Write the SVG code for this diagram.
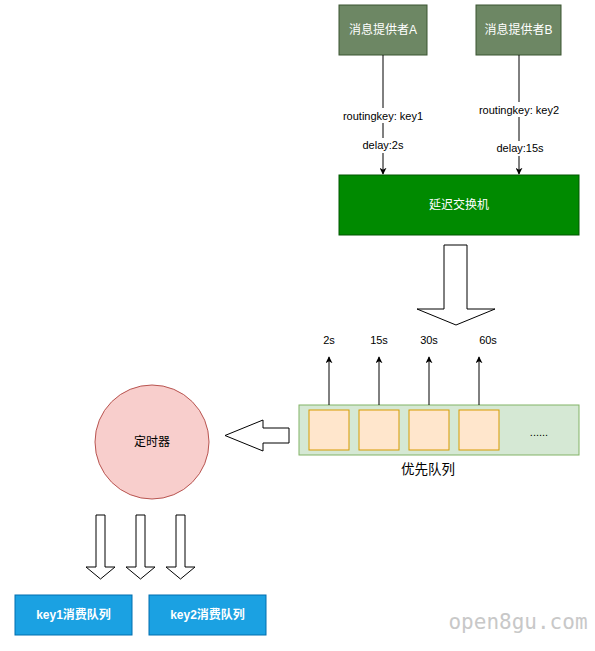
<svg xmlns="http://www.w3.org/2000/svg" width="595" height="651" viewBox="0 0 595 651">
<defs>
<marker id="ah" viewBox="0 0 10 10" refX="9" refY="5" markerWidth="7" markerHeight="7" orient="auto" markerUnits="userSpaceOnUse">
<path d="M0,0 L10,5 L0,10 L3,5 Z" fill="#000"/>
</marker>
<style>
text{font-family:"Liberation Sans","Noto Sans CJK SC",sans-serif;font-size:12px;text-anchor:middle;dominant-baseline:central}
.w{fill:#fff}
.lbl{fill:#000}
.sm{font-size:11px}
.ln{stroke:#000;stroke-width:1;fill:none}
.big{fill:#fff;stroke:#000;stroke-width:1}
.cell{fill:#ffe6cc;stroke:#d79b00}
</style>
</defs>
<rect width="595" height="651" fill="#fff"/>
<g id="providerA"><rect x="339" y="5" width="88" height="50" fill="#6d8764" stroke="#3a5431"/><text x="383" y="30" class="w">消息提供者A</text></g>
<g id="providerB"><rect x="476" y="5" width="85" height="50" fill="#6d8764" stroke="#3a5431"/><text x="518.5" y="30" class="w">消息提供者B</text></g>
<g id="exchange"><rect x="339" y="175" width="240" height="60" fill="#008a00" stroke="#005700"/><text x="459" y="205" class="w">延迟交换机</text></g>
<g id="queue"><rect x="299" y="405" width="280" height="50" fill="#d5e8d4" stroke="#82b366"/>
<rect class="cell" x="309" y="410" width="40" height="40"/>
<rect class="cell" x="359" y="410" width="40" height="40"/>
<rect class="cell" x="409" y="410" width="40" height="40"/>
<rect class="cell" x="459" y="410" width="40" height="40"/>
<text x="539" y="432" class="lbl sm">......</text>
<text x="428" y="469" class="lbl" style="font-size:13.5px">优先队列</text></g>
<g id="timer"><circle cx="152" cy="442" r="57" fill="#f8cecc" stroke="#b85450"/><text x="152" y="442" class="lbl">定时器</text></g>
<g id="key1"><rect x="15" y="595" width="117" height="40" fill="#1ba1e2" stroke="#006eaf"/><text x="73.5" y="615" class="w" font-weight="bold">key1消费队列</text></g>
<g id="key2"><rect x="149" y="595" width="117" height="40" fill="#1ba1e2" stroke="#006eaf"/><text x="207.5" y="615" class="w" font-weight="bold">key2消费队列</text></g>
<g id="connectors">
<line class="ln" x1="383" y1="55" x2="383" y2="174" marker-end="url(#ah)"/>
<line class="ln" x1="519" y1="55" x2="519" y2="174" marker-end="url(#ah)"/>
<rect x="339" y="108" width="88" height="15" fill="#fff"/><text x="383" y="115.5" class="lbl sm">routingkey: key1</text>
<rect x="359" y="138" width="48" height="15" fill="#fff"/><text x="383" y="145" class="lbl sm">delay:2s</text>
<rect x="475" y="102" width="88" height="15" fill="#fff"/><text x="519" y="109.5" class="lbl sm">routingkey: key2</text>
<rect x="494" y="141" width="52" height="15" fill="#fff"/><text x="520" y="148" class="lbl sm">delay:15s</text>
<path class="big" d="M444,245 L467,245 L467,309 L495,309 L456,325 L417,309 L444,309 Z"/>
<line class="ln" x1="329" y1="405" x2="329" y2="357" marker-end="url(#ah)"/>
<line class="ln" x1="379" y1="405" x2="379" y2="357" marker-end="url(#ah)"/>
<line class="ln" x1="429" y1="405" x2="429" y2="357" marker-end="url(#ah)"/>
<line class="ln" x1="479" y1="405" x2="479" y2="357" marker-end="url(#ah)"/>
<text x="329" y="340" class="lbl sm">2s</text>
<text x="379" y="340" class="lbl sm">15s</text>
<text x="429" y="340" class="lbl sm">30s</text>
<text x="488" y="340" class="lbl sm">60s</text>
<path class="big" d="M289,428 L289,443 L263,443 L263,451 L225,435.5 L263,420 L263,428 Z"/>
<path class="big" d="M96,515 L105,515 L105,567 L115,567 L100.5,579 L86,567 L96,567 Z"/>
<path class="big" d="M136,515 L145,515 L145,567 L155,567 L140.5,579 L126,567 L136,567 Z"/>
<path class="big" d="M176,515 L185,515 L185,567 L195,567 L180.5,579 L166,567 L176,567 Z"/>
</g>
<text x="518" y="622" style="font-family:'DejaVu Sans Mono',monospace;font-size:21px;fill:#c8c8c8">open8gu.com</text>
</svg>
